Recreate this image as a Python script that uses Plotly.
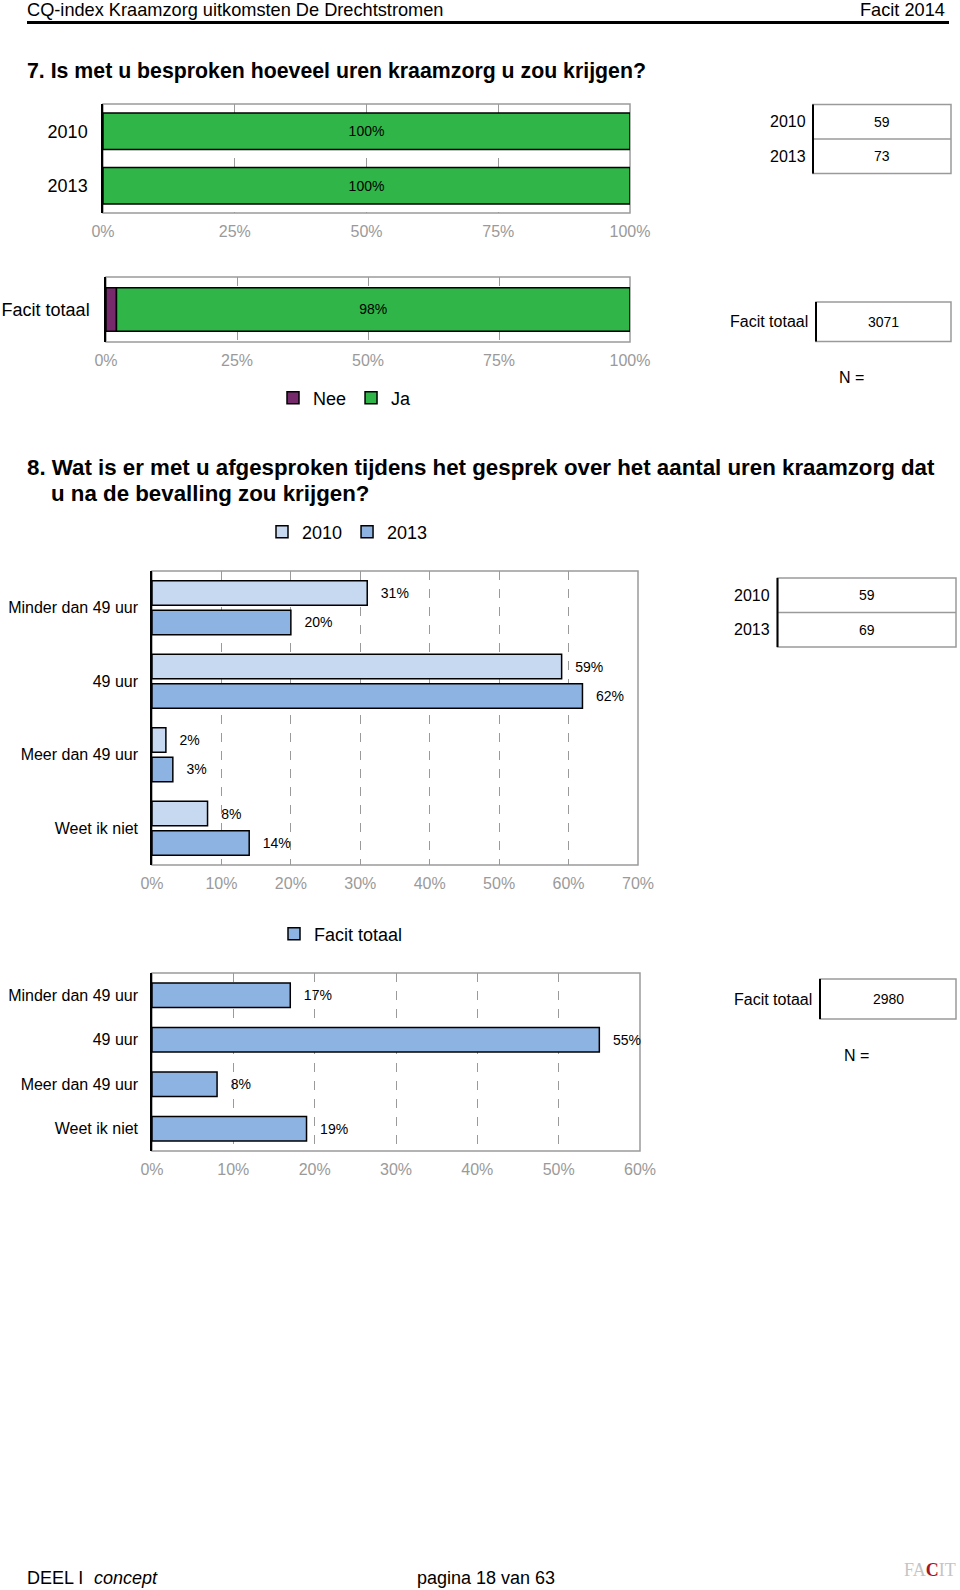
import plotly.graph_objects as go

W, H = 960, 1590

# ---- data ----
YEARS = ["2010", "2013"]
Q7_NEE = [0, 0]
Q7_JA = [100, 100]
TOTAL_LABEL = ["Facit totaal"]
Q7_TOTAL_NEE = [2]
Q7_TOTAL_JA = [98]
Q7_N = [59, 73]
Q7_N_TOTAL = [3071]

Q8_CATS = ["Minder dan 49 uur", "49 uur", "Meer dan 49 uur", "Weet ik niet"]
Q8_2010 = [31, 59, 2, 8]
Q8_2013 = [20, 62, 3, 14]
Q8_TOTAL = [17, 55, 8, 19]
Q8_N = [59, 69]
Q8_N_TOTAL = [2980]

FONT = "Liberation Sans, Arial, sans-serif"
GREEN = "#2fb548"
PURPLE = "#762a6b"
LIGHT_BLUE = "#c6d9f1"
MID_BLUE = "#8db3e2"
GRID = "#9a9a9a"
TICK_GRAY = "#9a9a9a"
PAD = "\u00a0\u00a0\u2009"  # gap between bar end and its label


def px(x):
    return x / W


def py(y):
    return 1 - y / H


def x_axis(x0, x1, anchor, rng, dtick):
    return dict(
        domain=[px(x0), px(x1)], anchor=anchor, range=rng, dtick=dtick, tick0=0,
        ticksuffix="%", showgrid=True, gridcolor=GRID, griddash="dash", gridwidth=1,
        showline=False, zeroline=False, ticks="", ticklabelstandoff=7, automargin=False,
        tickfont=dict(size=16, color=TICK_GRAY), fixedrange=True,
    )


def y_axis(y0, y1, anchor, rng=None, size=18, standoff=10):
    d = dict(
        domain=[py(y1), py(y0)], anchor=anchor, type="category",
        showline=True, linecolor="black", linewidth=1.5, showgrid=False,
        zeroline=False, ticks="", ticklabelstandoff=standoff, automargin=False,
        tickfont=dict(size=size, color="black"), fixedrange=True,
    )
    if rng is None:
        d["autorange"] = "reversed"
    else:
        d["range"] = rng
    return d


fig = go.Figure()
bar_line = dict(color="black", width=1.5)

# Q7 per year
fig.add_trace(go.Bar(
    y=YEARS, x=Q7_NEE, orientation="h", width=0.67, marker=dict(color=PURPLE, line=bar_line),
    xaxis="x", yaxis="y", showlegend=False, hoverinfo="skip",
))
fig.add_trace(go.Bar(
    y=YEARS, x=Q7_JA, base=Q7_NEE, orientation="h", width=0.67,
    marker=dict(color=GREEN, line=bar_line), xaxis="x", yaxis="y", showlegend=False,
    texttemplate="%{x}", textposition="inside", insidetextanchor="middle",
    textfont=dict(size=14, color="black"),
))

# Q7 total
fig.add_trace(go.Bar(
    y=TOTAL_LABEL, x=Q7_TOTAL_NEE, orientation="h", width=0.67, name="Nee",
    marker=dict(color=PURPLE, line=bar_line), xaxis="x2", yaxis="y2", legend="legend",
))
fig.add_trace(go.Bar(
    y=TOTAL_LABEL, x=Q7_TOTAL_JA, base=Q7_TOTAL_NEE, orientation="h", width=0.67, name="Ja",
    marker=dict(color=GREEN, line=bar_line), xaxis="x2", yaxis="y2", legend="legend",
    texttemplate="%{x}", textposition="inside", insidetextanchor="middle",
    textfont=dict(size=14, color="black"),
))

# Q8 per year
for name, vals, col, off in [("2010", Q8_2010, LIGHT_BLUE, -0.366), ("2013", Q8_2013, MID_BLUE, 0.035)]:
    fig.add_trace(go.Bar(
        y=Q8_CATS, x=vals, orientation="h", width=0.331, offset=off, name=name,
        marker=dict(color=col, line=bar_line), xaxis="x3", yaxis="y3", legend="legend2",
        texttemplate=PAD + "%{x}", textposition="outside", cliponaxis=False,
        textfont=dict(size=14, color="black"),
    ))

# Q8 total
fig.add_trace(go.Bar(
    y=Q8_CATS, x=Q8_TOTAL, orientation="h", width=0.55, name="Facit totaal",
    marker=dict(color=MID_BLUE, line=bar_line), xaxis="x4", yaxis="y4", legend="legend3",
    texttemplate=PAD + "%{x}", textposition="outside", cliponaxis=False,
    textfont=dict(size=14, color="black"),
))

shapes = []
annotations = []

# plot borders (grey)
for ax, ay in [("x", "y"), ("x2", "y2"), ("x3", "y3"), ("x4", "y4")]:
    shapes.append(dict(type="rect", xref=f"{ax} domain", yref=f"{ay} domain",
                       x0=0, x1=1, y0=0, y1=1, line=dict(color=GRID, width=1.5), layer="below"))


def text(x, y, s, size=16, anchor="left", color="black", bold=False, italic=False):
    if bold:
        s = f"<b>{s}</b>"
    if italic:
        s = f"<i>{s}</i>"
    # annotations carry ~2px of padding; compensate
    if anchor == "left":
        x -= 2
    elif anchor == "right":
        x += 2
    annotations.append(dict(
        x=px(x), y=py(y), xref="paper", yref="paper", text=s, showarrow=False,
        xanchor=anchor, yanchor="middle", font=dict(size=size, color=color, family=FONT),
    ))


def n_table(labels, values, x0, x1, y0, row_h, label_x):
    n = len(values)
    y1 = y0 + row_h * n
    shapes.append(dict(type="rect", xref="paper", yref="paper", x0=px(x0), x1=px(x1),
                       y0=py(y1), y1=py(y0), line=dict(color=GRID, width=1.5)))
    for i in range(1, n):
        yy = y0 + row_h * i
        shapes.append(dict(type="line", xref="paper", yref="paper", x0=px(x0), x1=px(x1),
                           y0=py(yy), y1=py(yy), line=dict(color=GRID, width=1.5)))
    shapes.append(dict(type="line", xref="paper", yref="paper", x0=px(x0), x1=px(x0),
                       y0=py(y1), y1=py(y0), line=dict(color="black", width=2)))
    for i, (lab, val) in enumerate(zip(labels, values)):
        yc = y0 + row_h * (i + 0.5)
        text(label_x, yc, lab, size=16, anchor="right")
        text((x0 + x1) / 2, yc, str(val), size=14, anchor="center")


# header
text(27, 10, "CQ-index Kraamzorg uitkomsten De Drechtstromen", size=18.2)
text(945, 10, "Facit 2014", size=18.2, anchor="right")
shapes.append(dict(type="line", xref="paper", yref="paper", x0=px(27), x1=px(949),
                   y0=py(22.5), y1=py(22.5), line=dict(color="black", width=3)))

# question titles
text(27, 71, "7. Is met u besproken hoeveel uren kraamzorg u zou krijgen?", size=21.3, bold=True)
text(27, 467, "8. Wat is er met u afgesproken tijdens het gesprek over het aantal uren kraamzorg dat",
     size=22.3, bold=True)
text(50.5, 493, "u na de bevalling zou krijgen?", size=22.3, bold=True)

# N tables
n_table(YEARS, Q7_N, 813, 951, 104.5, 34.5, 806)
n_table(TOTAL_LABEL, Q7_N_TOTAL, 816, 951, 302, 39.5, 808)
text(851.5, 378, "N =", size=16, anchor="center")
n_table(YEARS, Q8_N, 777.5, 956, 578, 34.5, 769.5)
n_table(TOTAL_LABEL, Q8_N_TOTAL, 820, 956, 979, 40, 812)
text(856.5, 1055, "N =", size=16, anchor="center")

# footer
text(27, 1578, "DEEL I", size=18)
text(94, 1578, "concept", size=18, italic=True)
text(486, 1578, "pagina 18 van 63", size=18, anchor="center")
annotations.append(dict(
    x=px(930), y=py(1570), xref="paper", yref="paper", showarrow=False,
    xanchor="center", yanchor="middle",
    text="<span style='color:#c4c4c4'>FA</span><span style='color:#a3162e'><b>C</b></span>"
         "<span style='color:#c4c4c4'>IT</span>",
    font=dict(size=18, family="Liberation Serif, serif"),
))

legend_common = dict(orientation="h", font=dict(size=18, family=FONT, color="black"),
                     xanchor="left", yanchor="middle", bgcolor="rgba(0,0,0,0)",
                     itemwidth=30, tracegroupgap=0, traceorder="normal")

fig.update_layout(
    width=W, height=H, autosize=False, margin=dict(l=0, r=0, t=0, b=0),
    paper_bgcolor="white", plot_bgcolor="white",
    font=dict(family=FONT, color="black"),
    barmode="overlay",
    xaxis=x_axis(103, 630, "y", [0, 100], 25),
    yaxis=y_axis(104, 213, "x", standoff=10),
    xaxis2=x_axis(106, 630, "y2", [0, 100], 25),
    yaxis2=y_axis(277, 342, "x2", standoff=11),
    xaxis3=x_axis(152, 638, "y3", [0, 70], 10),
    yaxis3=y_axis(571, 865, "x3", rng=[3.5, -0.5], size=16, standoff=9),
    xaxis4=x_axis(152, 640, "y4", [0, 60], 10),
    yaxis4=y_axis(973, 1151, "x4", rng=[3.5, -0.5], size=16, standoff=9),
    legend=dict(x=px(273), y=py(398), **legend_common),
    legend2=dict(x=px(262), y=py(532), **legend_common),
    legend3=dict(x=px(274), y=py(934), **legend_common),
    shapes=shapes,
    annotations=annotations,
    showlegend=True,
    hovermode=False,
)

# the page's default body margin would push the figure off the 960x1590 window
fig.write_html(
    "out.html",
    config={"displayModeBar": False, "responsive": False},
    post_script="document.body.style.margin='0';",
)
